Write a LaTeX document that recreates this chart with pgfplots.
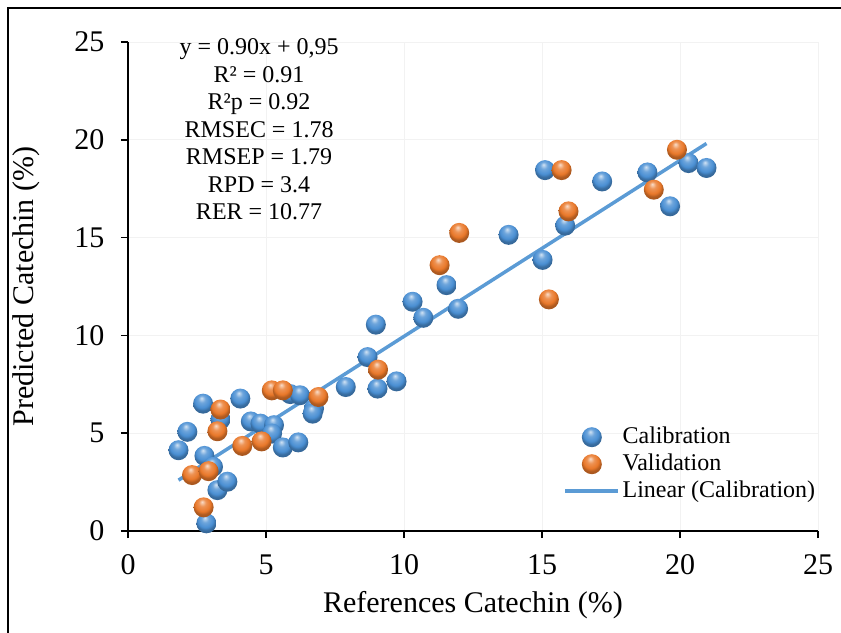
\documentclass[border=0pt]{standalone}
\usepackage{fontspec}
\setmainfont{Liberation Serif}
\usepackage{pgfplots}
\pgfplotsset{compat=1.18}

\definecolor{calblue}{HTML}{4A8FD3}
\definecolor{valorange}{HTML}{E9782A}
\definecolor{trendblue}{HTML}{5B9BD5}

% shaded "3D" balls like the spreadsheet markers
\pgfdeclareradialshading{calshade}{\pgfpoint{-4bp}{14bp}}{%
  color(0bp)=(calblue!25!white); color(9bp)=(calblue!80!white);
  color(19bp)=(calblue); color(25bp)=(calblue!75!black); color(50bp)=(calblue!60!black)}
\pgfdeclareradialshading{valshade}{\pgfpoint{-4bp}{14bp}}{%
  color(0bp)=(valorange!25!white); color(9bp)=(valorange!80!white);
  color(19bp)=(valorange); color(25bp)=(valorange!75!black); color(50bp)=(valorange!60!black)}
\pgfdeclareplotmark{calball}{%
  \pgfpathcircle{\pgfpointorigin}{\pgfplotmarksize}%
  \pgfshadepath{calshade}{0}\pgfusepath{}}
\pgfdeclareplotmark{valball}{%
  \pgfpathcircle{\pgfpointorigin}{\pgfplotmarksize}%
  \pgfshadepath{valshade}{0}\pgfusepath{}}

\begin{document}
\begin{tikzpicture}
\path[use as bounding box] (0,0) rectangle (841bp,633bp);
\draw[line width=1.5bp] (8bp,0) -- (8bp,625bp) -- (841bp,625bp);
\begin{axis}[
  at={(128bp,102bp)}, anchor=south west,
  scale only axis, width=690bp, height=489bp,
  xmin=0, xmax=25, ymin=0, ymax=25,
  xtick={0,5,...,25}, ytick={0,5,...,25},
  axis x line*=bottom, axis y line*=left,
  axis line style={line width=1.6bp, black},
  tick style={line width=1.6bp, black},
  major tick length=7bp, tick align=outside,
  grid=major, major grid style={line width=0.8bp, gray!10},
  tick label style={font=\fontsize{30bp}{36bp}\selectfont},
  xticklabel style={yshift=-13bp},
  yticklabel style={xshift=-13bp},
  /pgf/number format/assume math mode=true,
  label style={font=\fontsize{30bp}{36bp}\selectfont},
  xlabel={References Catechin (\%)},
  ylabel={Predicted Catechin (\%)},
  xlabel style={at={(axis description cs:0.5,-0.151)}, anchor=center},
  ylabel style={at={(axis description cs:-0.148,0.5)}, anchor=center},
  clip=false,
  legend cell align=left,
  legend style={at={(axis description cs:0.631,0.2198)}, anchor=north west,
    draw=none, fill=none, inner sep=0pt, row sep=0pt,
    font=\fontsize{24bp}{27bp}\selectfont,
    nodes={inner sep=2.5bp, text height=17bp, text depth=5bp}},
  legend image code/.code={%
    \draw[mark repeat=2,mark phase=2,#1] plot coordinates {(0bp,0bp) (26.5bp,0bp) (53bp,0bp)};},
]
\addplot[only marks, mark=calball, mark size=10bp] coordinates {
(1.83,4.13) (2.15,5.07) (2.72,6.51) (2.77,3.84) (3.08,3.28) (2.84,0.39)
(3.24,2.09) (3.60,2.52) (3.35,5.70) (4.07,6.77) (4.45,5.60) (4.80,5.49)
(5.29,5.41) (5.22,4.98) (5.61,4.27) (6.17,4.53) (5.88,7.00) (6.23,6.94)
(6.74,6.26) (6.69,6.00) (7.89,7.36) (9.04,7.28) (9.73,7.65) (8.68,8.89)
(8.98,10.55) (10.31,11.72) (10.70,10.90) (11.96,11.36) (11.54,12.57)
(13.79,15.14) (15.02,13.86) (15.11,18.45) (15.84,15.61) (17.18,17.87)
(18.82,18.33) (19.64,16.60) (20.31,18.81) (20.96,18.56)
};
\addlegendentry{Calibration}
\addplot[only marks, mark=valball, mark size=10bp] coordinates {
(2.32,2.86) (2.92,3.06) (2.74,1.21) (3.24,5.10) (3.35,6.21) (4.14,4.35)
(4.84,4.58) (5.21,7.19) (5.61,7.19) (6.90,6.85) (9.06,8.25) (11.29,13.59)
(12.00,15.24) (15.25,11.84) (15.71,18.45) (15.96,16.34) (19.05,17.45)
(19.89,19.49)
};
\addlegendentry{Validation}
\addplot[no marks, line width=3.5bp, color=trendblue] coordinates {
(1.83,2.60) (20.96,19.81)
};
\addlegendentry{Linear (Calibration)}
\node[align=center, font=\fontsize{24bp}{27.5bp}\selectfont] at (axis cs:4.75,20.54)
  {y = 0.90x + 0,95\\R² = 0.91\\R²p = 0.92\\RMSEC = 1.78\\RMSEP = 1.79\\RPD = 3.4\\RER = 10.77};
\end{axis}
\end{tikzpicture}
\end{document}
